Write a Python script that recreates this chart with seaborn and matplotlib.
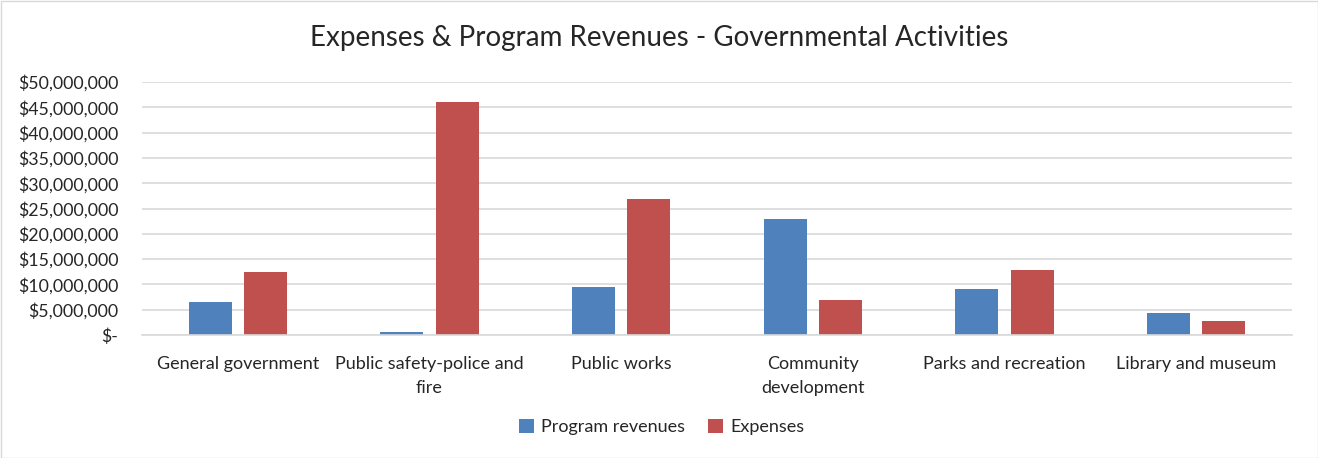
import matplotlib
matplotlib.use("Agg")
import matplotlib.pyplot as plt
import seaborn as sns
import pandas as pd
from matplotlib.ticker import FuncFormatter, MultipleLocator

categories = ["General government", "Public safety-police and\nfire", "Public works",
              "Community\ndevelopment", "Parks and recreation", "Library and museum"]
program_revenues = [6450000, 680000, 9450000, 22950000, 9000000, 4250000]
expenses = [12400000, 46000000, 26850000, 6900000, 12850000, 2720000]
series_names = ["Program revenues", "Expenses"]
colors = ["#4f81bd", "#c0504d"]
title = "Expenses & Program Revenues - Governmental Activities"

df = pd.DataFrame({
    "category": categories * 2,
    "value": program_revenues + expenses,
    "series": [series_names[0]] * len(categories) + [series_names[1]] * len(categories),
})

sns.set_theme(style="white")
plt.rcParams['font.family'] = ['Lato', 'DejaVu Sans']

fig = plt.figure(figsize=(13.18, 4.58), dpi=100)
ax = fig.add_axes([142 / 1318, (458 - 335) / 458, (1292 - 142) / 1318, (335 - 82) / 458])

sns.barplot(data=df, x="category", y="value", hue="series", palette=colors,
            width=0.576, gap=0.22, ax=ax, saturation=1, legend=True, linewidth=0)

ax.set_ylim(0, 50000000)
ax.yaxis.set_major_locator(MultipleLocator(5000000))
ax.yaxis.set_major_formatter(FuncFormatter(lambda v, p: "$-" if v == 0 else f"${v:,.0f}"))
ax.grid(axis="y", color="#d9d9d9", linewidth=1.2)
ax.set_axisbelow(True)
for s in ["top", "right", "left"]:
    ax.spines[s].set_visible(False)
ax.spines["bottom"].set_color("#d9d9d9")
ax.spines["bottom"].set_linewidth(1.2)
ax.tick_params(axis="y", labelsize=12.8, colors="#262626", length=0, pad=17)
ax.tick_params(axis="x", labelsize=13, colors="#262626", length=0, pad=15)
for lbl in ax.get_xticklabels():
    lbl.set_linespacing(1.6)
ax.set_xlabel("")
ax.set_ylabel("")

fig.text(0.5, 1 - 38 / 458, title, ha="center", va="center", fontsize=20, color="#262626")

leg = ax.legend(loc="center", bbox_to_anchor=(0.502, 1 - 427 / 458), bbox_transform=fig.transFigure,
                ncol=2, frameon=False, fontsize=13, handlelength=0.8, handleheight=0.8,
                columnspacing=1.3, handletextpad=0.4)
for t in leg.get_texts():
    t.set_color("#262626")

fig.patches.append(plt.Rectangle((0.5 / 1318, 0.5 / 458), 1 - 1 / 1318, 1 - 1 / 458, transform=fig.transFigure,
                                 fill=False, edgecolor="#d9d9d9", linewidth=1))

fig.savefig("out.png", dpi=100, facecolor="white")
